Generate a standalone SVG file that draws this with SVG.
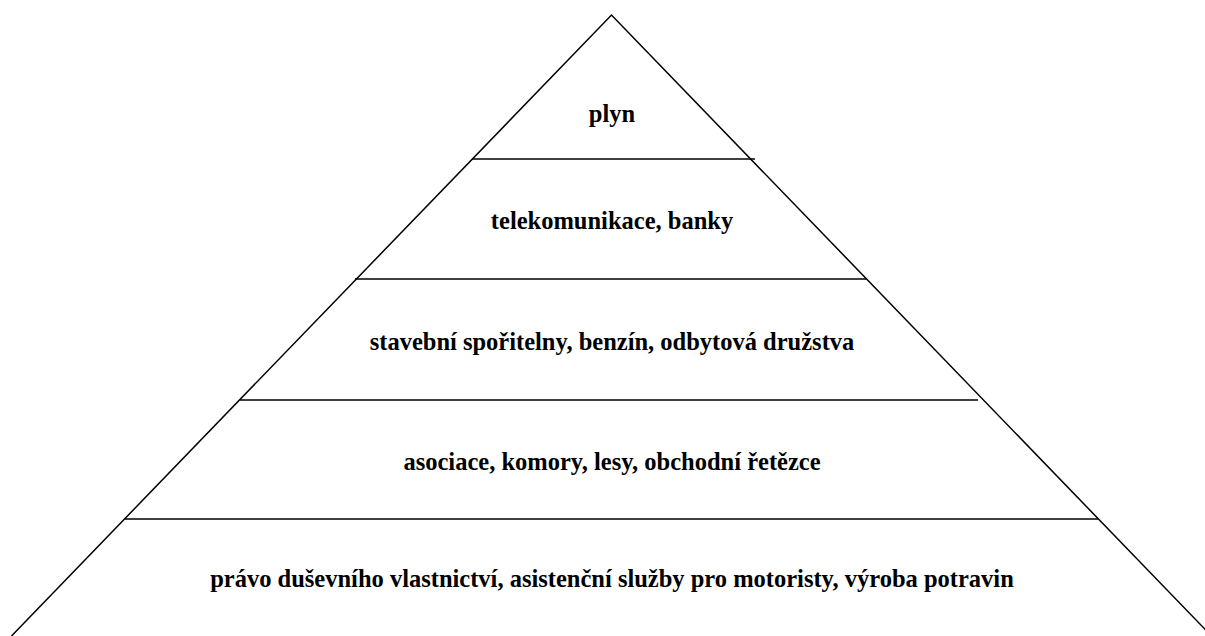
<svg xmlns="http://www.w3.org/2000/svg" width="1205" height="636" viewBox="0 0 1205 636">
<style>
.l{stroke:#000;stroke-width:1.5;fill:none}
.t{font-family:"Liberation Serif",serif;font-weight:bold;font-size:24.5px;text-anchor:middle;fill:#000}
</style>
<rect width="1205" height="636" fill="#fff"/>
<g id="connectors">
<path class="l" d="M11.5,636 L611.5,15 L1211.5,636"/>
<line class="l" x1="472" y1="159" x2="755" y2="159"/>
<line class="l" x1="355" y1="279" x2="866" y2="279"/>
<line class="l" x1="240" y1="400" x2="978" y2="400"/>
<line class="l" x1="125" y1="519" x2="1098" y2="519"/>
</g>
<g id="level1"><text class="t" x="612" y="122">plyn</text></g>
<g id="level2"><text class="t" x="612" y="229">telekomunikace, banky</text></g>
<g id="level3"><text class="t" x="612" y="350">stavební spořitelny, benzín, odbytová družstva</text></g>
<g id="level4"><text class="t" x="612" y="470">asociace, komory, lesy, obchodní řetězce</text></g>
<g id="level5"><text class="t" x="612" y="587">právo duševního vlastnictví, asistenční služby pro motoristy, výroba potravin</text></g>
</svg>
